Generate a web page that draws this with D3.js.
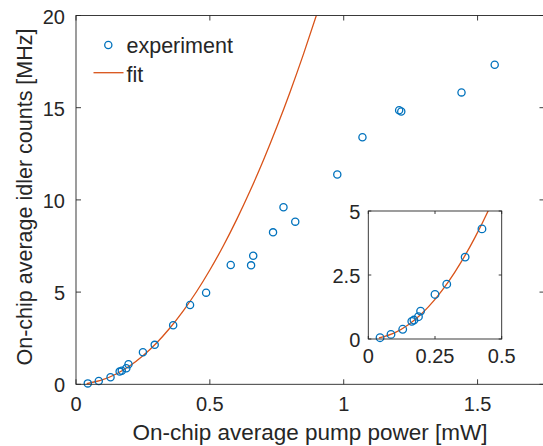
<!DOCTYPE html>
<html>
<head>
<meta charset="utf-8">
<script src="https://cdn.jsdelivr.net/npm/d3@7"></script>
<style>
  html, body { margin: 0; padding: 0; background: #fff; }
  svg text { font-family: "Liberation Sans", Arial, Helvetica, sans-serif; fill: #262626; }
</style>
</head>
<body>
<div id="chart"></div>
<script>
// measured points: pump power [mW] and idler counts [MHz]
const pumpPower = [0.044, 0.085, 0.129, 0.163, 0.171, 0.188, 0.196, 0.250, 0.294, 0.363, 0.426, 0.486,
                   0.578, 0.654, 0.662, 0.736, 0.775, 0.819, 0.976, 1.070, 1.207, 1.215, 1.440, 1.564];
const idlerCounts = [0.05, 0.18, 0.38, 0.69, 0.74, 0.87, 1.09, 1.74, 2.14, 3.20, 4.30, 4.97,
                     6.47, 6.45, 6.97, 8.24, 9.60, 8.82, 11.38, 13.40, 14.86, 14.79, 15.83, 17.33];

// fit curve
const fitPower = [0.04, 0.10, 0.15, 0.20, 0.25, 0.30, 0.35, 0.40, 0.45, 0.50, 0.55, 0.60,
                  0.65, 0.70, 0.75, 0.80, 0.85, 0.90];
const fitCounts = [0.04, 0.25, 0.56, 0.99, 1.55, 2.23, 3.04, 3.97, 5.02, 6.20, 7.50, 8.93,
                   10.48, 12.15, 13.95, 15.87, 17.92, 20.10];

const xTicks = [0, 0.5, 1, 1.5];
const yTicks = [0, 5, 10, 15, 20];
const insetXTicks = [0, 0.25, 0.5];
const insetYTicks = [0, 2.5, 5];
const legendLabels = ["experiment", "fit"];

const W = 543, H = 446;
const blue = "#0072BD", orange = "#D95319", axisCol = "#262626";

const points = pumpPower.map((p, i) => ({ p: p, v: idlerCounts[i] }));
const fit = fitPower.map((p, i) => ({ p: p, v: fitCounts[i] }));

const svg = d3.select("#chart").append("svg")
    .attr("width", W)
    .attr("height", H);

const defs = svg.append("defs");

function drawAxes(g, x, y, xt, yt, tickLen, fontSize, xLabDy, yLabGap, fmt) {
  const [x0, x1] = x.range();
  const [y0, y1] = y.range(); // y0 bottom, y1 top

  g.append("rect")
   .attr("x", x0).attr("y", y1)
   .attr("width", x1 - x0).attr("height", y0 - y1)
   .attr("fill", "none")
   .attr("stroke", axisCol)
   .attr("stroke-width", 0.9);

  xt.forEach(t => {
    const px = x(t);
    g.append("line").attr("x1", px).attr("x2", px).attr("y1", y0).attr("y2", y0 - tickLen)
     .attr("stroke", axisCol).attr("stroke-width", 0.9);
    g.append("line").attr("x1", px).attr("x2", px).attr("y1", y1).attr("y2", y1 + tickLen)
     .attr("stroke", axisCol).attr("stroke-width", 0.9);
    g.append("text").attr("x", px).attr("y", y0 + xLabDy)
     .attr("text-anchor", "middle").style("font-size", fontSize + "px")
     .text(fmt(t));
  });

  yt.forEach(t => {
    const py = y(t);
    g.append("line").attr("x1", x0).attr("x2", x0 + tickLen).attr("y1", py).attr("y2", py)
     .attr("stroke", axisCol).attr("stroke-width", 0.9);
    g.append("line").attr("x1", x1).attr("x2", x1 - tickLen).attr("y1", py).attr("y2", py)
     .attr("stroke", axisCol).attr("stroke-width", 0.9);
    g.append("text").attr("x", x0 - yLabGap).attr("y", py + 8)
     .attr("text-anchor", "end").style("font-size", fontSize + "px")
     .text(fmt(t));
  });
}

function drawData(g, x, y, pts, fitPts, clipId, r) {
  const [x0, x1] = x.range();
  const [y0, y1] = y.range();
  defs.append("clipPath").attr("id", clipId)
      .append("rect").attr("x", x0).attr("y", y1)
      .attr("width", x1 - x0).attr("height", y0 - y1);

  const line = d3.line()
      .x(d => x(d.p))
      .y(d => y(d.v))
      .curve(d3.curveMonotoneX);

  g.append("path")
   .datum(fitPts)
   .attr("clip-path", `url(#${clipId})`)
   .attr("d", line)
   .attr("fill", "none")
   .attr("stroke", orange)
   .attr("stroke-width", 1.3);

  g.selectAll(".pt")
   .data(pts)
   .enter()
   .append("circle")
   .attr("class", "pt")
   .attr("cx", d => x(d.p))
   .attr("cy", d => y(d.v))
   .attr("r", r)
   .attr("fill", "none")
   .attr("stroke", blue)
   .attr("stroke-width", 1.3);
}

// main axes
const x = d3.scaleLinear().domain([0, 1.75]).range([76, 544.5]);
const y = d3.scaleLinear().domain([0, 20]).range([384.3, 15.5]);

const main = svg.append("g");
drawData(main, x, y, points, fit, "clipMain", 3.6);
drawAxes(main, x, y, xTicks, yTicks, 5, 20, 26.5, 11, d => d3.format("~g")(d));

main.append("text")
    .attr("x", (76 + 543) / 2 + 0.5)
    .attr("y", 440)
    .attr("text-anchor", "middle")
    .style("font-size", "22.5px")
    .text("On-chip average pump power [mW]");

main.append("text")
    .attr("transform", "translate(31.5,197) rotate(-90)")
    .attr("text-anchor", "middle")
    .style("font-size", "21.5px")
    .text("On-chip average idler counts [MHz]");

// legend
const leg = svg.append("g");
leg.append("circle")
   .attr("cx", 108.3).attr("cy", 45).attr("r", 3.6)
   .attr("fill", "none").attr("stroke", blue).attr("stroke-width", 1.3);
leg.append("text").attr("x", 126.5).attr("y", 53)
   .style("font-size", "21.5px").text(legendLabels[0]);
leg.append("line")
   .attr("x1", 93.5).attr("x2", 123.5).attr("y1", 72.7).attr("y2", 72.7)
   .attr("stroke", orange).attr("stroke-width", 1.3);
leg.append("text").attr("x", 126.5).attr("y", 81.5)
   .style("font-size", "21.5px").text(legendLabels[1]);

// inset
const xi = d3.scaleLinear().domain([0, 0.5]).range([368.3, 501.7]);
const yi = d3.scaleLinear().domain([0, 5]).range([339, 211]);

const inset = svg.append("g");
inset.append("rect")
     .attr("x", 368.3).attr("y", 211)
     .attr("width", 501.7 - 368.3).attr("height", 339 - 211)
     .attr("fill", "#fff");
drawData(inset, xi, yi, points.filter(d => d.p < 0.45), fit, "clipInset", 3.8);
drawAxes(inset, xi, yi, insetXTicks, insetYTicks, 3, 20, 24, 8, d => d3.format("~g")(d));
</script>
</body>
</html>
